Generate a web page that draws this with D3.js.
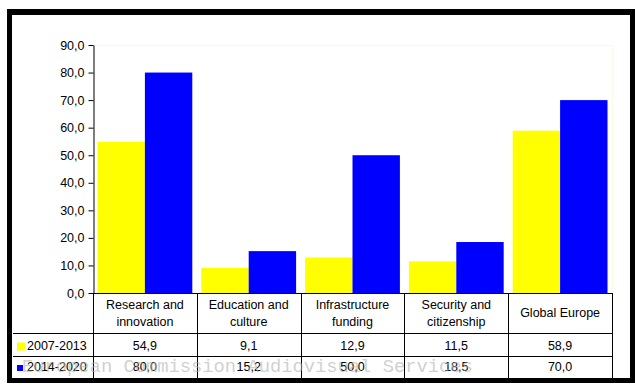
<!DOCTYPE html>
<html>
<head>
<meta charset="utf-8">
<script src="https://cdn.jsdelivr.net/npm/d3@7"></script>
<style>
  body { margin: 0; background: #fff; }
  svg text { font-family: "Liberation Sans", Arial, sans-serif; }
</style>
</head>
<body>
<div class="chart"></div>
<script>
var svgWidth = 635;
var svgHeight = 386;

// data
var categories = [
  ["Research and", "innovation"],
  ["Education and", "culture"],
  ["Infrastructure", "funding"],
  ["Security and", "citizenship"],
  ["Global Europe"]
];
var seriesNames = ["2007-2013", "2014-2020"];
var values2007 = [54.9, 9.1, 12.9, 11.5, 58.9];
var values2014 = [80.0, 15.2, 50.0, 18.5, 70.0];
var yTicks = [0, 10, 20, 30, 40, 50, 60, 70, 80, 90];
var colors = ["#ffff00", "#0000ff"];

var plot = { left: 93, right: 612, top: 45, bottom: 293 };
var rowLines = [333, 356, 378];

var svg = d3.select(".chart")
  .append("svg")
  .attr("width", svgWidth)
  .attr("height", svgHeight);

var fmt = function(v) { return d3.format(".1f")(v).replace(".", ","); };

var catIdx = d3.range(categories.length);

var x0 = d3.scaleBand()
  .domain(catIdx)
  .range([plot.left, plot.right])
  .paddingInner(0)
  .paddingOuter(0);

var x1 = d3.scaleBand()
  .domain([0, 1])
  .range([0, x0.bandwidth()])
  .paddingInner(0)
  .paddingOuter(0.095);

var y = d3.scaleLinear()
  .domain([0, 90])
  .range([plot.bottom, plot.top]);

// faint plot area border
svg.append("rect")
  .attr("x", plot.left + 0.5)
  .attr("y", plot.top + 0.5)
  .attr("width", plot.right - plot.left)
  .attr("height", plot.bottom - plot.top)
  .attr("fill", "none")
  .attr("stroke", "#fbf8e6");

// bars
var series = [values2007, values2014];
series.forEach(function(vals, s) {
  svg.append("g")
    .selectAll("rect")
    .data(vals)
    .enter()
    .append("rect")
    .attr("x", (d, i) => x0(i) + x1(s))
    .attr("y", d => y(d))
    .attr("width", x1.bandwidth())
    .attr("height", d => y(0) - y(d))
    .attr("fill", colors[s]);
});

// y axis
var leftAxis = d3.axisLeft(y)
  .tickValues(yTicks)
  .tickFormat(fmt)
  .tickSize(5)
  .tickSizeOuter(0)
  .tickPadding(4);

var yAxis = svg.append("g")
  .attr("transform", `translate(${plot.left + 0.5}, 0)`)
  .call(leftAxis);
yAxis.selectAll("text")
  .attr("font-size", "12.5px")
  .attr("fill", "#000");
yAxis.selectAll("line, path").attr("stroke", "#000");

// data table lines
var table = svg.append("g").attr("stroke", "#000").attr("stroke-width", 1);
table.append("line")
  .attr("x1", plot.left).attr("x2", plot.right + 1)
  .attr("y1", plot.bottom + 0.5).attr("y2", plot.bottom + 0.5);
rowLines.slice(0, 2).forEach(function(ry) {
  table.append("line")
    .attr("x1", 13).attr("x2", plot.right + 1)
    .attr("y1", ry + 0.5).attr("y2", ry + 0.5);
});
catIdx.concat([categories.length]).forEach(function(i) {
  var xx = i < categories.length ? x0(i) : plot.right;
  table.append("line")
    .attr("x1", Math.round(xx) + 0.5).attr("x2", Math.round(xx) + 0.5)
    .attr("y1", plot.bottom).attr("y2", rowLines[2]);
});

// category labels
var header = svg.append("g");
categories.forEach(function(lines, i) {
  var cx = x0(i) + x0.bandwidth() / 2;
  var mid = (plot.bottom + rowLines[0]) / 2;
  lines.forEach(function(t, k) {
    header.append("text")
      .attr("x", cx)
      .attr("y", mid + (k - (lines.length - 1) / 2) * 17)
      .attr("dy", "0.35em")
      .attr("text-anchor", "middle")
      .attr("font-size", "12.5px")
      .text(t);
  });
});

// value rows + legend keys
var rowMids = [(rowLines[0] + rowLines[1]) / 2 + 1, (rowLines[1] + rowLines[2]) / 2];
series.forEach(function(vals, s) {
  var g = svg.append("g");
  g.selectAll("text")
    .data(vals)
    .enter()
    .append("text")
    .attr("x", (d, i) => x0(i) + x0.bandwidth() / 2)
    .attr("y", rowMids[s])
    .attr("dy", "0.35em")
    .attr("text-anchor", "middle")
    .attr("font-size", "12.5px")
    .text(fmt);
  var sz = s === 0 ? 8 : 6;
  g.append("rect")
    .attr("x", 17)
    .attr("y", rowMids[s] - sz / 2 + 1)
    .attr("width", sz)
    .attr("height", sz)
    .attr("fill", colors[s]);
  g.append("text")
    .attr("x", 27)
    .attr("y", rowMids[s])
    .attr("dy", "0.35em")
    .attr("font-size", "12.5px")
    .text(seriesNames[s]);
});

// watermark
svg.append("text")
  .attr("x", 22)
  .attr("y", 372)
  .style("font-family", "'Liberation Mono', 'DejaVu Sans Mono', monospace")
  .style("font-size", "18.8px")
  .attr("fill", "#b0b0b0")
  .attr("fill-opacity", 0.6)
  .text("European Commission Audiovisual Services");

// outer frame
var frame = svg.append("g").attr("fill", "#000");
frame.append("rect").attr("x", 7).attr("y", 9).attr("width", 628).attr("height", 6);
frame.append("rect").attr("x", 7).attr("y", 9).attr("width", 5).attr("height", 374);
frame.append("rect").attr("x", 630).attr("y", 9).attr("width", 5).attr("height", 374);
frame.append("rect").attr("x", 7).attr("y", 378).attr("width", 628).attr("height", 5);
</script>
</body>
</html>
